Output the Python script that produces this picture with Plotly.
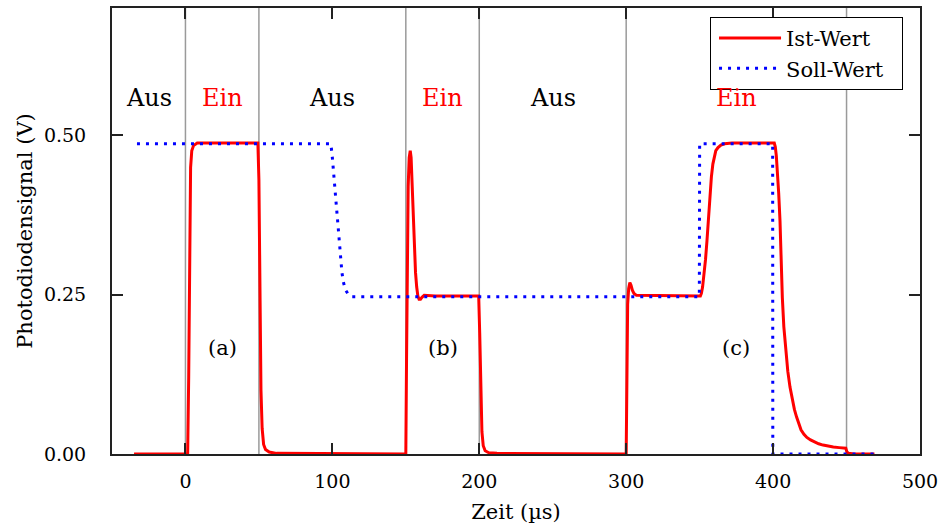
import plotly.graph_objects as go

# Ist-Wert (measured photodiode signal), time in µs, value in V
ist_t = [-35, 1.5, 2.2, 2.8, 3.5, 4.3, 5.5, 8, 49.3, 50.0, 50.7, 51.4, 52.2, 53.2, 54.5, 57, 62,
         150.0, 150.5, 151.0, 151.6, 152.3, 153.0, 153.6, 154.2, 155.0, 155.8, 156.6, 157.4, 158.2,
         159.0, 160.0, 161.0, 162.5, 170, 199.6,
         200.3, 201.0, 201.8, 202.7, 204, 206.5, 212,
         300.0, 300.5, 301.0, 301.7, 302.5, 303.3, 304.2, 305.3, 307, 350.5,
         351.2, 352, 353, 354, 355, 356, 357, 358, 359, 360, 361, 362.5, 364.5, 367, 372, 400.8,
         401.5, 402.2, 403, 403.8, 404.7, 405.5, 406.3, 407.3, 408.6, 410, 411.5, 413, 414.5, 416,
         417.5, 419, 421, 423, 425.5, 428, 431, 434, 437.5, 441, 445, 449.5,
         450.3, 451.5, 455, 469]
ist_v = [0.0, 0.0, 0.12, 0.33, 0.45, 0.476, 0.484, 0.488, 0.488, 0.43, 0.25, 0.1, 0.04, 0.015, 0.007, 0.003, 0.001,
         0.0, 0.15, 0.30, 0.42, 0.465, 0.476, 0.465, 0.43, 0.37, 0.32, 0.285, 0.262, 0.248,
         0.243, 0.243, 0.246, 0.249, 0.248, 0.248,
         0.19, 0.09, 0.035, 0.013, 0.005, 0.002, 0.001,
         0.0, 0.15, 0.235, 0.26, 0.269, 0.265, 0.257, 0.252, 0.249, 0.248,
         0.252, 0.262, 0.28, 0.305, 0.335, 0.37, 0.405, 0.435, 0.455, 0.468, 0.476, 0.481, 0.485, 0.487, 0.488, 0.488,
         0.482, 0.468, 0.445, 0.41, 0.366, 0.3, 0.245, 0.2, 0.16, 0.13, 0.105, 0.085, 0.07, 0.058,
         0.047, 0.038, 0.031, 0.026, 0.022, 0.019, 0.016, 0.014, 0.012, 0.011, 0.01, 0.009,
         0.003, 0.001, 0.0, 0.0]

# Soll-Wert (set point)
soll_t = [-33, 99, 100, 101, 102.3, 103.2, 104.4, 105.4, 106.5, 107.5, 108.8, 111, 113,
          349.8, 350, 399.7, 399.8, 470]
soll_v = [0.487, 0.487, 0.465, 0.437, 0.403, 0.37, 0.342, 0.309, 0.285, 0.27, 0.258, 0.25, 0.247,
          0.247, 0.487, 0.487, 0.0, 0.0]

# switching boundaries (gray vertical lines)
boundaries = [0, 50, 150, 200, 300, 450]

# state labels
state_x = [-25, 25, 100, 175, 250, 375]
state_text = ["Aus", "Ein", "Aus", "Ein", "Aus", "Ein"]
state_y = 0.559

# panel labels
panel_x = [25, 175, 375]
panel_text = ["(a)", "(b)", "(c)"]
panel_y = 0.166

x_ticks = [0, 100, 200, 300, 400, 500]
y_ticks = [0.0, 0.25, 0.5]

series_names = ["Ist-Wert", "Soll-Wert"]

FONT = "DejaVu Serif"
NB = "\u00a0\u00a0"

fig = go.Figure()
fig.add_trace(go.Scatter(x=ist_t, y=ist_v, mode="lines", name=series_names[0] + NB,
                         line=dict(color="#ff0000", width=3)))
fig.add_trace(go.Scatter(x=soll_t, y=soll_v, mode="lines", name=series_names[1] + NB,
                         line=dict(color="#0000ff", width=3, dash="3px,6px")))

for b in boundaries:
    fig.add_shape(type="line", xref="x", yref="paper", x0=b, x1=b, y0=0, y1=1,
                  line=dict(color="#9a9a9a", width=1.5), layer="below")

for xs, txt in zip(state_x, state_text):
    fig.add_annotation(x=xs, y=state_y, text=txt, showarrow=False,
                       font=dict(family=FONT, size=24,
                                 color="#ff0000" if txt == "Ein" else "#000000"))

for xs, txt in zip(panel_x, panel_text):
    fig.add_annotation(x=xs, y=panel_y, text=txt, showarrow=False,
                       font=dict(family=FONT, size=21, color="#000000"))

axis_common = dict(showline=True, linecolor="#222222", linewidth=2, mirror="ticks",
                   ticks="inside", ticklen=11, tickwidth=1.5, tickcolor="#222222",
                   showgrid=False, zeroline=False,
                   tickfont=dict(family=FONT, size=19, color="#000000"))

fig.update_xaxes(range=[-50, 500], tickvals=x_ticks, ticklabelstandoff=9,
                 title=dict(text="Zeit (µs)", font=dict(family=FONT, size=21, color="#000000"),
                            standoff=14),
                 **axis_common)
fig.update_yaxes(range=[0, 0.7], tickvals=y_ticks, tickformat=".2f", ticklabelstandoff=20,
                 title=dict(text="Photodiodensignal (V)", font=dict(family=FONT, size=21, color="#000000"),
                            standoff=6),
                 **axis_common)

fig.update_layout(
    width=939, height=529,
    margin=dict(l=112, r=19, t=8, b=75, autoexpand=False),
    paper_bgcolor="white", plot_bgcolor="white",
    showlegend=True,
    legend=dict(x=0.979, y=0.98, xanchor="right", yanchor="top",
                bgcolor="white", bordercolor="#000000", borderwidth=1,
                font=dict(family=FONT, size=21, color="#000000"),
                tracegroupgap=0, itemwidth=62, indentation=3),
)

# remove the default page margin so the figure fills the window exactly
fig.write_html("out.html", config={"displayModeBar": False},
               post_script="document.body.style.margin='0';")
